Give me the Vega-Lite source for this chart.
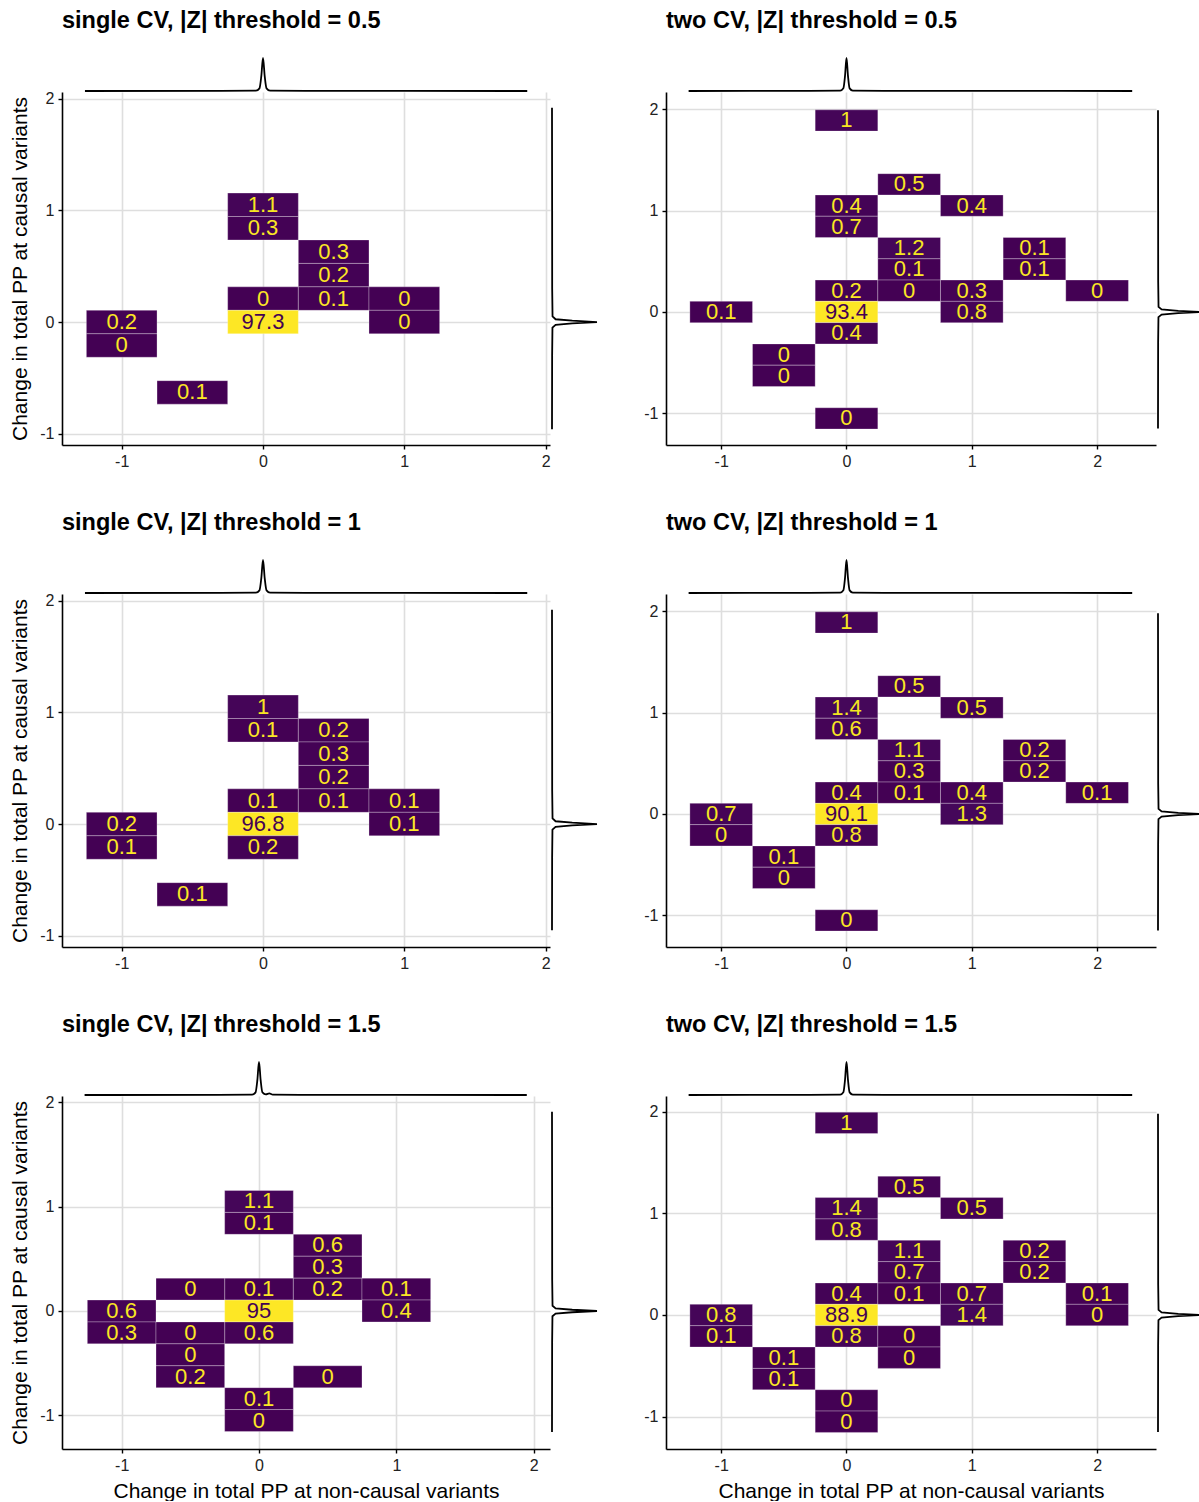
{
"$schema": "https://vega.github.io/schema/vega-lite/v6.json",
"padding": {"left": 9, "top": 8, "right": 0, "bottom": 0},
"datasets": {
"tiles": [
{"p":"A","x":0,"y":1.05,"xa":-0.25,"xb":0.25,"ya":0.945,"yb":1.155,"v":1.1},
{"p":"A","x":0,"y":0.84,"xa":-0.25,"xb":0.25,"ya":0.735,"yb":0.945,"v":0.3},
{"p":"A","x":0,"y":0.21,"xa":-0.25,"xb":0.25,"ya":0.105,"yb":0.315,"v":0},
{"p":"A","x":0,"y":0,"xa":-0.25,"xb":0.25,"ya":-0.105,"yb":0.105,"v":97.3},
{"p":"A","x":0.5,"y":0.63,"xa":0.25,"xb":0.75,"ya":0.525,"yb":0.735,"v":0.3},
{"p":"A","x":0.5,"y":0.42,"xa":0.25,"xb":0.75,"ya":0.315,"yb":0.525,"v":0.2},
{"p":"A","x":0.5,"y":0.21,"xa":0.25,"xb":0.75,"ya":0.105,"yb":0.315,"v":0.1},
{"p":"A","x":1,"y":0.21,"xa":0.75,"xb":1.25,"ya":0.105,"yb":0.315,"v":0},
{"p":"A","x":1,"y":0,"xa":0.75,"xb":1.25,"ya":-0.105,"yb":0.105,"v":0},
{"p":"A","x":-1,"y":0,"xa":-1.25,"xb":-0.75,"ya":-0.105,"yb":0.105,"v":0.2},
{"p":"A","x":-1,"y":-0.21,"xa":-1.25,"xb":-0.75,"ya":-0.315,"yb":-0.105,"v":0},
{"p":"A","x":-0.5,"y":-0.63,"xa":-0.75,"xb":-0.25,"ya":-0.735,"yb":-0.525,"v":0.1},

{"p":"B","x":0,"y":1.89,"xa":-0.25,"xb":0.25,"ya":1.785,"yb":1.995,"v":1},
{"p":"B","x":0,"y":1.05,"xa":-0.25,"xb":0.25,"ya":0.945,"yb":1.155,"v":0.4},
{"p":"B","x":0,"y":0.84,"xa":-0.25,"xb":0.25,"ya":0.735,"yb":0.945,"v":0.7},
{"p":"B","x":0,"y":0.21,"xa":-0.25,"xb":0.25,"ya":0.105,"yb":0.315,"v":0.2},
{"p":"B","x":0,"y":0,"xa":-0.25,"xb":0.25,"ya":-0.105,"yb":0.105,"v":93.4},
{"p":"B","x":0,"y":-0.21,"xa":-0.25,"xb":0.25,"ya":-0.315,"yb":-0.105,"v":0.4},
{"p":"B","x":0,"y":-1.05,"xa":-0.25,"xb":0.25,"ya":-1.155,"yb":-0.945,"v":0},
{"p":"B","x":0.5,"y":1.26,"xa":0.25,"xb":0.75,"ya":1.155,"yb":1.365,"v":0.5},
{"p":"B","x":0.5,"y":0.63,"xa":0.25,"xb":0.75,"ya":0.525,"yb":0.735,"v":1.2},
{"p":"B","x":0.5,"y":0.42,"xa":0.25,"xb":0.75,"ya":0.315,"yb":0.525,"v":0.1},
{"p":"B","x":0.5,"y":0.21,"xa":0.25,"xb":0.75,"ya":0.105,"yb":0.315,"v":0},
{"p":"B","x":1,"y":1.05,"xa":0.75,"xb":1.25,"ya":0.945,"yb":1.155,"v":0.4},
{"p":"B","x":1,"y":0.21,"xa":0.75,"xb":1.25,"ya":0.105,"yb":0.315,"v":0.3},
{"p":"B","x":1,"y":0,"xa":0.75,"xb":1.25,"ya":-0.105,"yb":0.105,"v":0.8},
{"p":"B","x":1.5,"y":0.63,"xa":1.25,"xb":1.75,"ya":0.525,"yb":0.735,"v":0.1},
{"p":"B","x":1.5,"y":0.42,"xa":1.25,"xb":1.75,"ya":0.315,"yb":0.525,"v":0.1},
{"p":"B","x":2,"y":0.21,"xa":1.75,"xb":2.25,"ya":0.105,"yb":0.315,"v":0},
{"p":"B","x":-1,"y":0,"xa":-1.25,"xb":-0.75,"ya":-0.105,"yb":0.105,"v":0.1},
{"p":"B","x":-0.5,"y":-0.42,"xa":-0.75,"xb":-0.25,"ya":-0.525,"yb":-0.315,"v":0},
{"p":"B","x":-0.5,"y":-0.63,"xa":-0.75,"xb":-0.25,"ya":-0.735,"yb":-0.525,"v":0},

{"p":"C","x":0,"y":1.05,"xa":-0.25,"xb":0.25,"ya":0.945,"yb":1.155,"v":1},
{"p":"C","x":0,"y":0.84,"xa":-0.25,"xb":0.25,"ya":0.735,"yb":0.945,"v":0.1},
{"p":"C","x":0,"y":0.21,"xa":-0.25,"xb":0.25,"ya":0.105,"yb":0.315,"v":0.1},
{"p":"C","x":0,"y":0,"xa":-0.25,"xb":0.25,"ya":-0.105,"yb":0.105,"v":96.8},
{"p":"C","x":0,"y":-0.21,"xa":-0.25,"xb":0.25,"ya":-0.315,"yb":-0.105,"v":0.2},
{"p":"C","x":0.5,"y":0.84,"xa":0.25,"xb":0.75,"ya":0.735,"yb":0.945,"v":0.2},
{"p":"C","x":0.5,"y":0.63,"xa":0.25,"xb":0.75,"ya":0.525,"yb":0.735,"v":0.3},
{"p":"C","x":0.5,"y":0.42,"xa":0.25,"xb":0.75,"ya":0.315,"yb":0.525,"v":0.2},
{"p":"C","x":0.5,"y":0.21,"xa":0.25,"xb":0.75,"ya":0.105,"yb":0.315,"v":0.1},
{"p":"C","x":1,"y":0.21,"xa":0.75,"xb":1.25,"ya":0.105,"yb":0.315,"v":0.1},
{"p":"C","x":1,"y":0,"xa":0.75,"xb":1.25,"ya":-0.105,"yb":0.105,"v":0.1},
{"p":"C","x":-1,"y":0,"xa":-1.25,"xb":-0.75,"ya":-0.105,"yb":0.105,"v":0.2},
{"p":"C","x":-1,"y":-0.21,"xa":-1.25,"xb":-0.75,"ya":-0.315,"yb":-0.105,"v":0.1},
{"p":"C","x":-0.5,"y":-0.63,"xa":-0.75,"xb":-0.25,"ya":-0.735,"yb":-0.525,"v":0.1},

{"p":"D","x":0,"y":1.89,"xa":-0.25,"xb":0.25,"ya":1.785,"yb":1.995,"v":1},
{"p":"D","x":0,"y":1.05,"xa":-0.25,"xb":0.25,"ya":0.945,"yb":1.155,"v":1.4},
{"p":"D","x":0,"y":0.84,"xa":-0.25,"xb":0.25,"ya":0.735,"yb":0.945,"v":0.6},
{"p":"D","x":0,"y":0.21,"xa":-0.25,"xb":0.25,"ya":0.105,"yb":0.315,"v":0.4},
{"p":"D","x":0,"y":0,"xa":-0.25,"xb":0.25,"ya":-0.105,"yb":0.105,"v":90.1},
{"p":"D","x":0,"y":-0.21,"xa":-0.25,"xb":0.25,"ya":-0.315,"yb":-0.105,"v":0.8},
{"p":"D","x":0,"y":-1.05,"xa":-0.25,"xb":0.25,"ya":-1.155,"yb":-0.945,"v":0},
{"p":"D","x":0.5,"y":1.26,"xa":0.25,"xb":0.75,"ya":1.155,"yb":1.365,"v":0.5},
{"p":"D","x":0.5,"y":0.63,"xa":0.25,"xb":0.75,"ya":0.525,"yb":0.735,"v":1.1},
{"p":"D","x":0.5,"y":0.42,"xa":0.25,"xb":0.75,"ya":0.315,"yb":0.525,"v":0.3},
{"p":"D","x":0.5,"y":0.21,"xa":0.25,"xb":0.75,"ya":0.105,"yb":0.315,"v":0.1},
{"p":"D","x":1,"y":1.05,"xa":0.75,"xb":1.25,"ya":0.945,"yb":1.155,"v":0.5},
{"p":"D","x":1,"y":0.21,"xa":0.75,"xb":1.25,"ya":0.105,"yb":0.315,"v":0.4},
{"p":"D","x":1,"y":0,"xa":0.75,"xb":1.25,"ya":-0.105,"yb":0.105,"v":1.3},
{"p":"D","x":1.5,"y":0.63,"xa":1.25,"xb":1.75,"ya":0.525,"yb":0.735,"v":0.2},
{"p":"D","x":1.5,"y":0.42,"xa":1.25,"xb":1.75,"ya":0.315,"yb":0.525,"v":0.2},
{"p":"D","x":2,"y":0.21,"xa":1.75,"xb":2.25,"ya":0.105,"yb":0.315,"v":0.1},
{"p":"D","x":-1,"y":0,"xa":-1.25,"xb":-0.75,"ya":-0.105,"yb":0.105,"v":0.7},
{"p":"D","x":-1,"y":-0.21,"xa":-1.25,"xb":-0.75,"ya":-0.315,"yb":-0.105,"v":0},
{"p":"D","x":-0.5,"y":-0.42,"xa":-0.75,"xb":-0.25,"ya":-0.525,"yb":-0.315,"v":0.1},
{"p":"D","x":-0.5,"y":-0.63,"xa":-0.75,"xb":-0.25,"ya":-0.735,"yb":-0.525,"v":0},

{"p":"E","x":0,"y":1.05,"xa":-0.25,"xb":0.25,"ya":0.945,"yb":1.155,"v":1.1},
{"p":"E","x":0,"y":0.84,"xa":-0.25,"xb":0.25,"ya":0.735,"yb":0.945,"v":0.1},
{"p":"E","x":0,"y":0.21,"xa":-0.25,"xb":0.25,"ya":0.105,"yb":0.315,"v":0.1},
{"p":"E","x":0,"y":0,"xa":-0.25,"xb":0.25,"ya":-0.105,"yb":0.105,"v":95},
{"p":"E","x":0,"y":-0.21,"xa":-0.25,"xb":0.25,"ya":-0.315,"yb":-0.105,"v":0.6},
{"p":"E","x":0,"y":-0.84,"xa":-0.25,"xb":0.25,"ya":-0.945,"yb":-0.735,"v":0.1},
{"p":"E","x":0,"y":-1.05,"xa":-0.25,"xb":0.25,"ya":-1.155,"yb":-0.945,"v":0},
{"p":"E","x":0.5,"y":0.63,"xa":0.25,"xb":0.75,"ya":0.525,"yb":0.735,"v":0.6},
{"p":"E","x":0.5,"y":0.42,"xa":0.25,"xb":0.75,"ya":0.315,"yb":0.525,"v":0.3},
{"p":"E","x":0.5,"y":0.21,"xa":0.25,"xb":0.75,"ya":0.105,"yb":0.315,"v":0.2},
{"p":"E","x":0.5,"y":-0.63,"xa":0.25,"xb":0.75,"ya":-0.735,"yb":-0.525,"v":0},
{"p":"E","x":1,"y":0.21,"xa":0.75,"xb":1.25,"ya":0.105,"yb":0.315,"v":0.1},
{"p":"E","x":1,"y":0,"xa":0.75,"xb":1.25,"ya":-0.105,"yb":0.105,"v":0.4},
{"p":"E","x":-1,"y":0,"xa":-1.25,"xb":-0.75,"ya":-0.105,"yb":0.105,"v":0.6},
{"p":"E","x":-1,"y":-0.21,"xa":-1.25,"xb":-0.75,"ya":-0.315,"yb":-0.105,"v":0.3},
{"p":"E","x":-0.5,"y":0.21,"xa":-0.75,"xb":-0.25,"ya":0.105,"yb":0.315,"v":0},
{"p":"E","x":-0.5,"y":-0.21,"xa":-0.75,"xb":-0.25,"ya":-0.315,"yb":-0.105,"v":0},
{"p":"E","x":-0.5,"y":-0.42,"xa":-0.75,"xb":-0.25,"ya":-0.525,"yb":-0.315,"v":0},
{"p":"E","x":-0.5,"y":-0.63,"xa":-0.75,"xb":-0.25,"ya":-0.735,"yb":-0.525,"v":0.2},

{"p":"F","x":0,"y":1.89,"xa":-0.25,"xb":0.25,"ya":1.785,"yb":1.995,"v":1},
{"p":"F","x":0,"y":1.05,"xa":-0.25,"xb":0.25,"ya":0.945,"yb":1.155,"v":1.4},
{"p":"F","x":0,"y":0.84,"xa":-0.25,"xb":0.25,"ya":0.735,"yb":0.945,"v":0.8},
{"p":"F","x":0,"y":0.21,"xa":-0.25,"xb":0.25,"ya":0.105,"yb":0.315,"v":0.4},
{"p":"F","x":0,"y":0,"xa":-0.25,"xb":0.25,"ya":-0.105,"yb":0.105,"v":88.9},
{"p":"F","x":0,"y":-0.21,"xa":-0.25,"xb":0.25,"ya":-0.315,"yb":-0.105,"v":0.8},
{"p":"F","x":0,"y":-0.84,"xa":-0.25,"xb":0.25,"ya":-0.945,"yb":-0.735,"v":0},
{"p":"F","x":0,"y":-1.05,"xa":-0.25,"xb":0.25,"ya":-1.155,"yb":-0.945,"v":0},
{"p":"F","x":0.5,"y":1.26,"xa":0.25,"xb":0.75,"ya":1.155,"yb":1.365,"v":0.5},
{"p":"F","x":0.5,"y":0.63,"xa":0.25,"xb":0.75,"ya":0.525,"yb":0.735,"v":1.1},
{"p":"F","x":0.5,"y":0.42,"xa":0.25,"xb":0.75,"ya":0.315,"yb":0.525,"v":0.7},
{"p":"F","x":0.5,"y":0.21,"xa":0.25,"xb":0.75,"ya":0.105,"yb":0.315,"v":0.1},
{"p":"F","x":0.5,"y":-0.21,"xa":0.25,"xb":0.75,"ya":-0.315,"yb":-0.105,"v":0},
{"p":"F","x":0.5,"y":-0.42,"xa":0.25,"xb":0.75,"ya":-0.525,"yb":-0.315,"v":0},
{"p":"F","x":1,"y":1.05,"xa":0.75,"xb":1.25,"ya":0.945,"yb":1.155,"v":0.5},
{"p":"F","x":1,"y":0.21,"xa":0.75,"xb":1.25,"ya":0.105,"yb":0.315,"v":0.7},
{"p":"F","x":1,"y":0,"xa":0.75,"xb":1.25,"ya":-0.105,"yb":0.105,"v":1.4},
{"p":"F","x":1.5,"y":0.63,"xa":1.25,"xb":1.75,"ya":0.525,"yb":0.735,"v":0.2},
{"p":"F","x":1.5,"y":0.42,"xa":1.25,"xb":1.75,"ya":0.315,"yb":0.525,"v":0.2},
{"p":"F","x":2,"y":0.21,"xa":1.75,"xb":2.25,"ya":0.105,"yb":0.315,"v":0.1},
{"p":"F","x":2,"y":0,"xa":1.75,"xb":2.25,"ya":-0.105,"yb":0.105,"v":0},
{"p":"F","x":-1,"y":0,"xa":-1.25,"xb":-0.75,"ya":-0.105,"yb":0.105,"v":0.8},
{"p":"F","x":-1,"y":-0.21,"xa":-1.25,"xb":-0.75,"ya":-0.315,"yb":-0.105,"v":0.1},
{"p":"F","x":-0.5,"y":-0.42,"xa":-0.75,"xb":-0.25,"ya":-0.525,"yb":-0.315,"v":0.1},
{"p":"F","x":-0.5,"y":-0.63,"xa":-0.75,"xb":-0.25,"ya":-0.735,"yb":-0.525,"v":0.1}
],
"topd": [
{"p":"A","x":-1.26,"d":0},{"p":"A","x":-0.3,"d":0.003},{"p":"A","x":-0.05,"d":0.01},{"p":"A","x":-0.025,"d":0.08},{"p":"A","x":-0.012,"d":0.45},{"p":"A","x":0,"d":1},{"p":"A","x":0.012,"d":0.45},{"p":"A","x":0.025,"d":0.08},{"p":"A","x":0.05,"d":0.012},{"p":"A","x":0.3,"d":0.004},{"p":"A","x":1.0,"d":0.003},{"p":"A","x":1.87,"d":0},
{"p":"B","x":-1.26,"d":0},{"p":"B","x":-0.3,"d":0.003},{"p":"B","x":-0.05,"d":0.01},{"p":"B","x":-0.025,"d":0.08},{"p":"B","x":-0.012,"d":0.45},{"p":"B","x":0,"d":1},{"p":"B","x":0.012,"d":0.45},{"p":"B","x":0.025,"d":0.08},{"p":"B","x":0.05,"d":0.014},{"p":"B","x":0.3,"d":0.005},{"p":"B","x":1.0,"d":0.003},{"p":"B","x":1.6,"d":0.002},{"p":"B","x":2.28,"d":0},
{"p":"C","x":-1.26,"d":0},{"p":"C","x":-0.3,"d":0.003},{"p":"C","x":-0.05,"d":0.01},{"p":"C","x":-0.025,"d":0.08},{"p":"C","x":-0.012,"d":0.45},{"p":"C","x":0,"d":1},{"p":"C","x":0.012,"d":0.45},{"p":"C","x":0.025,"d":0.08},{"p":"C","x":0.05,"d":0.012},{"p":"C","x":0.3,"d":0.004},{"p":"C","x":1.0,"d":0.003},{"p":"C","x":1.87,"d":0},
{"p":"D","x":-1.26,"d":0},{"p":"D","x":-0.3,"d":0.003},{"p":"D","x":-0.05,"d":0.01},{"p":"D","x":-0.025,"d":0.08},{"p":"D","x":-0.012,"d":0.45},{"p":"D","x":0,"d":1},{"p":"D","x":0.012,"d":0.45},{"p":"D","x":0.025,"d":0.08},{"p":"D","x":0.05,"d":0.014},{"p":"D","x":0.3,"d":0.005},{"p":"D","x":1.0,"d":0.003},{"p":"D","x":1.6,"d":0.002},{"p":"D","x":2.28,"d":0},
{"p":"E","x":-1.27,"d":0},{"p":"E","x":-0.3,"d":0.003},{"p":"E","x":-0.05,"d":0.01},{"p":"E","x":-0.025,"d":0.08},{"p":"E","x":-0.012,"d":0.45},{"p":"E","x":0,"d":1},{"p":"E","x":0.012,"d":0.45},{"p":"E","x":0.025,"d":0.08},{"p":"E","x":0.05,"d":0.02},{"p":"E","x":0.075,"d":0.05},{"p":"E","x":0.1,"d":0.01},{"p":"E","x":0.3,"d":0.004},{"p":"E","x":1.0,"d":0.003},{"p":"E","x":1.95,"d":0},
{"p":"F","x":-1.26,"d":0},{"p":"F","x":-0.3,"d":0.003},{"p":"F","x":-0.05,"d":0.01},{"p":"F","x":-0.025,"d":0.08},{"p":"F","x":-0.012,"d":0.45},{"p":"F","x":0,"d":1},{"p":"F","x":0.012,"d":0.45},{"p":"F","x":0.025,"d":0.08},{"p":"F","x":0.05,"d":0.014},{"p":"F","x":0.3,"d":0.005},{"p":"F","x":1.0,"d":0.003},{"p":"F","x":1.6,"d":0.002},{"p":"F","x":2.28,"d":0}
],
"rightd": [
{"p":"A","y":1.92,"d":0},{"p":"A","y":1.0,"d":0.003},{"p":"A","y":0.3,"d":0.004},{"p":"A","y":0.05,"d":0.012},{"p":"A","y":0.025,"d":0.08},{"p":"A","y":0.012,"d":0.45},{"p":"A","y":0,"d":1},{"p":"A","y":-0.012,"d":0.45},{"p":"A","y":-0.025,"d":0.08},{"p":"A","y":-0.05,"d":0.01},{"p":"A","y":-0.3,"d":0.003},{"p":"A","y":-0.96,"d":0},
{"p":"B","y":1.99,"d":0},{"p":"B","y":1.0,"d":0.003},{"p":"B","y":0.3,"d":0.004},{"p":"B","y":0.05,"d":0.012},{"p":"B","y":0.025,"d":0.08},{"p":"B","y":0.012,"d":0.45},{"p":"B","y":0,"d":1},{"p":"B","y":-0.012,"d":0.45},{"p":"B","y":-0.025,"d":0.08},{"p":"B","y":-0.05,"d":0.01},{"p":"B","y":-0.3,"d":0.003},{"p":"B","y":-1.15,"d":0},
{"p":"C","y":1.92,"d":0},{"p":"C","y":1.0,"d":0.003},{"p":"C","y":0.3,"d":0.004},{"p":"C","y":0.05,"d":0.012},{"p":"C","y":0.025,"d":0.08},{"p":"C","y":0.012,"d":0.45},{"p":"C","y":0,"d":1},{"p":"C","y":-0.012,"d":0.45},{"p":"C","y":-0.025,"d":0.08},{"p":"C","y":-0.05,"d":0.01},{"p":"C","y":-0.3,"d":0.003},{"p":"C","y":-0.95,"d":0},
{"p":"D","y":1.98,"d":0},{"p":"D","y":1.0,"d":0.003},{"p":"D","y":0.3,"d":0.004},{"p":"D","y":0.05,"d":0.012},{"p":"D","y":0.025,"d":0.08},{"p":"D","y":0.012,"d":0.45},{"p":"D","y":0,"d":1},{"p":"D","y":-0.012,"d":0.45},{"p":"D","y":-0.025,"d":0.08},{"p":"D","y":-0.05,"d":0.01},{"p":"D","y":-0.3,"d":0.003},{"p":"D","y":-1.15,"d":0},
{"p":"E","y":1.91,"d":0},{"p":"E","y":1.0,"d":0.003},{"p":"E","y":0.3,"d":0.004},{"p":"E","y":0.05,"d":0.012},{"p":"E","y":0.025,"d":0.08},{"p":"E","y":0.012,"d":0.45},{"p":"E","y":0,"d":1},{"p":"E","y":-0.012,"d":0.45},{"p":"E","y":-0.025,"d":0.08},{"p":"E","y":-0.05,"d":0.01},{"p":"E","y":-0.3,"d":0.003},{"p":"E","y":-1.16,"d":0},
{"p":"F","y":1.98,"d":0},{"p":"F","y":1.0,"d":0.003},{"p":"F","y":0.3,"d":0.004},{"p":"F","y":0.05,"d":0.012},{"p":"F","y":0.025,"d":0.08},{"p":"F","y":0.012,"d":0.45},{"p":"F","y":0,"d":1},{"p":"F","y":-0.012,"d":0.45},{"p":"F","y":-0.025,"d":0.08},{"p":"F","y":-0.05,"d":0.01},{"p":"F","y":-0.3,"d":0.003},{"p":"F","y":-1.15,"d":0}
]
},
"vconcat": [
{"hconcat": [
{"width": 488, "height": 353, "title": {"text": "single CV, |Z| threshold = 0.5"},
 "layer": [
  {"data": {"name": "tiles"}, "transform": [{"filter": {"field": "p", "equal": "A"}}],
   "mark": {"type": "rect", "stroke": "#ffffff", "strokeWidth": 0.7, "strokeOpacity": 0.4},
   "encoding": {
    "x": {"field": "xa", "type": "quantitative", "scale": {"domain": [-1.4225, 2.031], "nice": false, "zero": false}, "axis": {"values": [-1,0,1,2], "title": null, "labelExpr": "'' + datum.value", "labelFontSize": 16}},
    "x2": {"field": "xb"},
    "y": {"field": "ya", "type": "quantitative", "scale": {"domain": [-1.101, 2.06], "nice": false, "zero": false}, "axis": {"values": [-1,0,1,2], "title": "Change in total PP at causal variants", "labelExpr": "'' + datum.value", "labelFontSize": 16}},
    "y2": {"field": "yb"},
    "fill": {"field": "v", "type": "quantitative", "scale": {"scheme": "viridis", "domain": [0, 97.3]}, "legend": null}}},
  {"data": {"name": "tiles"}, "transform": [{"filter": {"field": "p", "equal": "A"}}],
   "mark": {"type": "text", "fontSize": 22, "baseline": "middle"},
   "encoding": {
    "x": {"field": "x", "type": "quantitative", "scale": {"domain": [-1.4225, 2.031], "nice": false, "zero": false}, "axis": null},
    "y": {"field": "y", "type": "quantitative", "scale": {"domain": [-1.101, 2.06], "nice": false, "zero": false}, "axis": null},
    "text": {"field": "v", "type": "nominal"},
    "color": {"field": "v", "type": "quantitative", "scale": {"scheme": "viridis", "reverse": true, "domain": [0, 97.3]}, "legend": null}}},
  {"data": {"name": "topd"}, "transform": [{"filter": {"field": "p", "equal": "A"}}],
   "mark": {"type": "line", "color": "#000", "strokeWidth": 1.8, "interpolate": "monotone"},
   "encoding": {
    "x": {"field": "x", "type": "quantitative", "scale": {"domain": [-1.4225, 2.031], "nice": false, "zero": false}, "axis": null},
    "y": {"field": "d", "type": "quantitative", "scale": {"domain": [-10.727, -0.0303], "nice": false, "zero": false}, "axis": null}}},
  {"data": {"name": "rightd"}, "transform": [{"filter": {"field": "p", "equal": "A"}}],
   "mark": {"type": "line", "color": "#000", "strokeWidth": 1.8},
   "encoding": {
    "x": {"field": "d", "type": "quantitative", "scale": {"domain": [-10.889, -0.0444], "nice": false, "zero": false}, "axis": null},
    "y": {"field": "y", "type": "quantitative", "scale": {"domain": [-1.101, 2.06], "nice": false, "zero": false}, "axis": null},
    "order": {"field": "y", "type": "quantitative"}}}
 ],
 "resolve": {"scale": {"x": "independent", "y": "independent", "fill": "independent", "color": "independent"}}},
{"width": 490, "height": 353, "title": {"text": "two CV, |Z| threshold = 0.5"},
 "layer": [
  {"data": {"name": "tiles"}, "transform": [{"filter": {"field": "p", "equal": "B"}}],
   "mark": {"type": "rect", "stroke": "#ffffff", "strokeWidth": 0.7, "strokeOpacity": 0.4},
   "encoding": {
    "x": {"field": "xa", "type": "quantitative", "scale": {"domain": [-1.4405, 2.47], "nice": false, "zero": false}, "axis": {"values": [-1,0,1,2], "title": null, "labelExpr": "'' + datum.value", "labelFontSize": 16}},
    "x2": {"field": "xb"},
    "y": {"field": "ya", "type": "quantitative", "scale": {"domain": [-1.3125, 2.171], "nice": false, "zero": false}, "axis": {"values": [-1,0,1,2], "title": null, "labelExpr": "'' + datum.value", "labelFontSize": 16}},
    "y2": {"field": "yb"},
    "fill": {"field": "v", "type": "quantitative", "scale": {"scheme": "viridis", "domain": [0, 93.4]}, "legend": null}}},
  {"data": {"name": "tiles"}, "transform": [{"filter": {"field": "p", "equal": "B"}}],
   "mark": {"type": "text", "fontSize": 22, "baseline": "middle"},
   "encoding": {
    "x": {"field": "x", "type": "quantitative", "scale": {"domain": [-1.4405, 2.47], "nice": false, "zero": false}, "axis": null},
    "y": {"field": "y", "type": "quantitative", "scale": {"domain": [-1.3125, 2.171], "nice": false, "zero": false}, "axis": null},
    "text": {"field": "v", "type": "nominal"},
    "color": {"field": "v", "type": "quantitative", "scale": {"scheme": "viridis", "reverse": true, "domain": [0, 93.4]}, "legend": null}}},
  {"data": {"name": "topd"}, "transform": [{"filter": {"field": "p", "equal": "B"}}],
   "mark": {"type": "line", "color": "#000", "strokeWidth": 1.8, "interpolate": "monotone"},
   "encoding": {
    "x": {"field": "x", "type": "quantitative", "scale": {"domain": [-1.4405, 2.47], "nice": false, "zero": false}, "axis": null},
    "y": {"field": "d", "type": "quantitative", "scale": {"domain": [-10.727, -0.0303], "nice": false, "zero": false}, "axis": null}}},
  {"data": {"name": "rightd"}, "transform": [{"filter": {"field": "p", "equal": "B"}}],
   "mark": {"type": "line", "color": "#000", "strokeWidth": 1.8},
   "encoding": {
    "x": {"field": "d", "type": "quantitative", "scale": {"domain": [-10.933, -0.0444], "nice": false, "zero": false}, "axis": null},
    "y": {"field": "y", "type": "quantitative", "scale": {"domain": [-1.3125, 2.171], "nice": false, "zero": false}, "axis": null},
    "order": {"field": "y", "type": "quantitative"}}}
 ],
 "resolve": {"scale": {"x": "independent", "y": "independent", "fill": "independent", "color": "independent"}}}
], "spacing": 42, "resolve": {"scale": {"fill": "independent", "color": "independent"}}},

{"hconcat": [
{"width": 488, "height": 353, "title": {"text": "single CV, |Z| threshold = 1"},
 "layer": [
  {"data": {"name": "tiles"}, "transform": [{"filter": {"field": "p", "equal": "C"}}],
   "mark": {"type": "rect", "stroke": "#ffffff", "strokeWidth": 0.7, "strokeOpacity": 0.4},
   "encoding": {
    "x": {"field": "xa", "type": "quantitative", "scale": {"domain": [-1.4225, 2.031], "nice": false, "zero": false}, "axis": {"values": [-1,0,1,2], "title": null, "labelExpr": "'' + datum.value", "labelFontSize": 16}},
    "x2": {"field": "xb"},
    "y": {"field": "ya", "type": "quantitative", "scale": {"domain": [-1.101, 2.06], "nice": false, "zero": false}, "axis": {"values": [-1,0,1,2], "title": "Change in total PP at causal variants", "labelExpr": "'' + datum.value", "labelFontSize": 16}},
    "y2": {"field": "yb"},
    "fill": {"field": "v", "type": "quantitative", "scale": {"scheme": "viridis", "domain": [0, 96.8]}, "legend": null}}},
  {"data": {"name": "tiles"}, "transform": [{"filter": {"field": "p", "equal": "C"}}],
   "mark": {"type": "text", "fontSize": 22, "baseline": "middle"},
   "encoding": {
    "x": {"field": "x", "type": "quantitative", "scale": {"domain": [-1.4225, 2.031], "nice": false, "zero": false}, "axis": null},
    "y": {"field": "y", "type": "quantitative", "scale": {"domain": [-1.101, 2.06], "nice": false, "zero": false}, "axis": null},
    "text": {"field": "v", "type": "nominal"},
    "color": {"field": "v", "type": "quantitative", "scale": {"scheme": "viridis", "reverse": true, "domain": [0, 96.8]}, "legend": null}}},
  {"data": {"name": "topd"}, "transform": [{"filter": {"field": "p", "equal": "C"}}],
   "mark": {"type": "line", "color": "#000", "strokeWidth": 1.8, "interpolate": "monotone"},
   "encoding": {
    "x": {"field": "x", "type": "quantitative", "scale": {"domain": [-1.4225, 2.031], "nice": false, "zero": false}, "axis": null},
    "y": {"field": "d", "type": "quantitative", "scale": {"domain": [-10.727, -0.0303], "nice": false, "zero": false}, "axis": null}}},
  {"data": {"name": "rightd"}, "transform": [{"filter": {"field": "p", "equal": "C"}}],
   "mark": {"type": "line", "color": "#000", "strokeWidth": 1.8},
   "encoding": {
    "x": {"field": "d", "type": "quantitative", "scale": {"domain": [-10.889, -0.0444], "nice": false, "zero": false}, "axis": null},
    "y": {"field": "y", "type": "quantitative", "scale": {"domain": [-1.101, 2.06], "nice": false, "zero": false}, "axis": null},
    "order": {"field": "y", "type": "quantitative"}}}
 ],
 "resolve": {"scale": {"x": "independent", "y": "independent", "fill": "independent", "color": "independent"}}},
{"width": 490, "height": 353, "title": {"text": "two CV, |Z| threshold = 1"},
 "layer": [
  {"data": {"name": "tiles"}, "transform": [{"filter": {"field": "p", "equal": "D"}}],
   "mark": {"type": "rect", "stroke": "#ffffff", "strokeWidth": 0.7, "strokeOpacity": 0.4},
   "encoding": {
    "x": {"field": "xa", "type": "quantitative", "scale": {"domain": [-1.4405, 2.47], "nice": false, "zero": false}, "axis": {"values": [-1,0,1,2], "title": null, "labelExpr": "'' + datum.value", "labelFontSize": 16}},
    "x2": {"field": "xb"},
    "y": {"field": "ya", "type": "quantitative", "scale": {"domain": [-1.3125, 2.171], "nice": false, "zero": false}, "axis": {"values": [-1,0,1,2], "title": null, "labelExpr": "'' + datum.value", "labelFontSize": 16}},
    "y2": {"field": "yb"},
    "fill": {"field": "v", "type": "quantitative", "scale": {"scheme": "viridis", "domain": [0, 90.1]}, "legend": null}}},
  {"data": {"name": "tiles"}, "transform": [{"filter": {"field": "p", "equal": "D"}}],
   "mark": {"type": "text", "fontSize": 22, "baseline": "middle"},
   "encoding": {
    "x": {"field": "x", "type": "quantitative", "scale": {"domain": [-1.4405, 2.47], "nice": false, "zero": false}, "axis": null},
    "y": {"field": "y", "type": "quantitative", "scale": {"domain": [-1.3125, 2.171], "nice": false, "zero": false}, "axis": null},
    "text": {"field": "v", "type": "nominal"},
    "color": {"field": "v", "type": "quantitative", "scale": {"scheme": "viridis", "reverse": true, "domain": [0, 90.1]}, "legend": null}}},
  {"data": {"name": "topd"}, "transform": [{"filter": {"field": "p", "equal": "D"}}],
   "mark": {"type": "line", "color": "#000", "strokeWidth": 1.8, "interpolate": "monotone"},
   "encoding": {
    "x": {"field": "x", "type": "quantitative", "scale": {"domain": [-1.4405, 2.47], "nice": false, "zero": false}, "axis": null},
    "y": {"field": "d", "type": "quantitative", "scale": {"domain": [-10.727, -0.0303], "nice": false, "zero": false}, "axis": null}}},
  {"data": {"name": "rightd"}, "transform": [{"filter": {"field": "p", "equal": "D"}}],
   "mark": {"type": "line", "color": "#000", "strokeWidth": 1.8},
   "encoding": {
    "x": {"field": "d", "type": "quantitative", "scale": {"domain": [-10.933, -0.0444], "nice": false, "zero": false}, "axis": null},
    "y": {"field": "y", "type": "quantitative", "scale": {"domain": [-1.3125, 2.171], "nice": false, "zero": false}, "axis": null},
    "order": {"field": "y", "type": "quantitative"}}}
 ],
 "resolve": {"scale": {"x": "independent", "y": "independent", "fill": "independent", "color": "independent"}}}
], "spacing": 42, "resolve": {"scale": {"fill": "independent", "color": "independent"}}},

{"hconcat": [
{"width": 488, "height": 353, "title": {"text": "single CV, |Z| threshold = 1.5"},
 "layer": [
  {"data": {"name": "tiles"}, "transform": [{"filter": {"field": "p", "equal": "E"}}],
   "mark": {"type": "rect", "stroke": "#ffffff", "strokeWidth": 0.7, "strokeOpacity": 0.4},
   "encoding": {
    "x": {"field": "xa", "type": "quantitative", "scale": {"domain": [-1.4345, 2.119], "nice": false, "zero": false}, "axis": {"values": [-1,0,1,2], "title": "Change in total PP at non-causal variants", "labelExpr": "'' + datum.value", "labelFontSize": 16}},
    "x2": {"field": "xb"},
    "y": {"field": "ya", "type": "quantitative", "scale": {"domain": [-1.323, 2.061], "nice": false, "zero": false}, "axis": {"values": [-1,0,1,2], "title": "Change in total PP at causal variants", "labelExpr": "'' + datum.value", "labelFontSize": 16}},
    "y2": {"field": "yb"},
    "fill": {"field": "v", "type": "quantitative", "scale": {"scheme": "viridis", "domain": [0, 95]}, "legend": null}}},
  {"data": {"name": "tiles"}, "transform": [{"filter": {"field": "p", "equal": "E"}}],
   "mark": {"type": "text", "fontSize": 22, "baseline": "middle"},
   "encoding": {
    "x": {"field": "x", "type": "quantitative", "scale": {"domain": [-1.4345, 2.119], "nice": false, "zero": false}, "axis": null},
    "y": {"field": "y", "type": "quantitative", "scale": {"domain": [-1.323, 2.061], "nice": false, "zero": false}, "axis": null},
    "text": {"field": "v", "type": "nominal"},
    "color": {"field": "v", "type": "quantitative", "scale": {"scheme": "viridis", "reverse": true, "domain": [0, 95]}, "legend": null}}},
  {"data": {"name": "topd"}, "transform": [{"filter": {"field": "p", "equal": "E"}}],
   "mark": {"type": "line", "color": "#000", "strokeWidth": 1.8, "interpolate": "monotone"},
   "encoding": {
    "x": {"field": "x", "type": "quantitative", "scale": {"domain": [-1.4345, 2.119], "nice": false, "zero": false}, "axis": null},
    "y": {"field": "d", "type": "quantitative", "scale": {"domain": [-10.727, -0.0303], "nice": false, "zero": false}, "axis": null}}},
  {"data": {"name": "rightd"}, "transform": [{"filter": {"field": "p", "equal": "E"}}],
   "mark": {"type": "line", "color": "#000", "strokeWidth": 1.8},
   "encoding": {
    "x": {"field": "d", "type": "quantitative", "scale": {"domain": [-10.889, -0.0444], "nice": false, "zero": false}, "axis": null},
    "y": {"field": "y", "type": "quantitative", "scale": {"domain": [-1.323, 2.061], "nice": false, "zero": false}, "axis": null},
    "order": {"field": "y", "type": "quantitative"}}}
 ],
 "resolve": {"scale": {"x": "independent", "y": "independent", "fill": "independent", "color": "independent"}}},
{"width": 490, "height": 353, "title": {"text": "two CV, |Z| threshold = 1.5"},
 "layer": [
  {"data": {"name": "tiles"}, "transform": [{"filter": {"field": "p", "equal": "F"}}],
   "mark": {"type": "rect", "stroke": "#ffffff", "strokeWidth": 0.7, "strokeOpacity": 0.4},
   "encoding": {
    "x": {"field": "xa", "type": "quantitative", "scale": {"domain": [-1.4405, 2.47], "nice": false, "zero": false}, "axis": {"values": [-1,0,1,2], "title": "Change in total PP at non-causal variants", "labelExpr": "'' + datum.value", "labelFontSize": 16}},
    "x2": {"field": "xb"},
    "y": {"field": "ya", "type": "quantitative", "scale": {"domain": [-1.318, 2.154], "nice": false, "zero": false}, "axis": {"values": [-1,0,1,2], "title": null, "labelExpr": "'' + datum.value", "labelFontSize": 16}},
    "y2": {"field": "yb"},
    "fill": {"field": "v", "type": "quantitative", "scale": {"scheme": "viridis", "domain": [0, 88.9]}, "legend": null}}},
  {"data": {"name": "tiles"}, "transform": [{"filter": {"field": "p", "equal": "F"}}],
   "mark": {"type": "text", "fontSize": 22, "baseline": "middle"},
   "encoding": {
    "x": {"field": "x", "type": "quantitative", "scale": {"domain": [-1.4405, 2.47], "nice": false, "zero": false}, "axis": null},
    "y": {"field": "y", "type": "quantitative", "scale": {"domain": [-1.318, 2.154], "nice": false, "zero": false}, "axis": null},
    "text": {"field": "v", "type": "nominal"},
    "color": {"field": "v", "type": "quantitative", "scale": {"scheme": "viridis", "reverse": true, "domain": [0, 88.9]}, "legend": null}}},
  {"data": {"name": "topd"}, "transform": [{"filter": {"field": "p", "equal": "F"}}],
   "mark": {"type": "line", "color": "#000", "strokeWidth": 1.8, "interpolate": "monotone"},
   "encoding": {
    "x": {"field": "x", "type": "quantitative", "scale": {"domain": [-1.4405, 2.47], "nice": false, "zero": false}, "axis": null},
    "y": {"field": "d", "type": "quantitative", "scale": {"domain": [-10.727, -0.0303], "nice": false, "zero": false}, "axis": null}}},
  {"data": {"name": "rightd"}, "transform": [{"filter": {"field": "p", "equal": "F"}}],
   "mark": {"type": "line", "color": "#000", "strokeWidth": 1.8},
   "encoding": {
    "x": {"field": "d", "type": "quantitative", "scale": {"domain": [-10.933, -0.0444], "nice": false, "zero": false}, "axis": null},
    "y": {"field": "y", "type": "quantitative", "scale": {"domain": [-1.318, 2.154], "nice": false, "zero": false}, "axis": null},
    "order": {"field": "y", "type": "quantitative"}}}
 ],
 "resolve": {"scale": {"x": "independent", "y": "independent", "fill": "independent", "color": "independent"}}}
], "spacing": 42, "resolve": {"scale": {"fill": "independent", "color": "independent"}}}
],
"spacing": 41,
"resolve": {"scale": {"fill": "independent", "color": "independent"}},
"config": {
 "font": "Liberation Sans",
 "view": {"stroke": null},
 "title": {"anchor": "start", "frame": "group", "fontSize": 23.5, "fontWeight": "bold", "color": "#000", "offset": 22},
 "axis": {"domainColor": "#000", "domainWidth": 1.6, "tickColor": "#000", "tickWidth": 1.4, "tickSize": 4, "labelFontSize": 16, "labelColor": "#222", "labelPadding": 4, "gridColor": "#dedede", "gridWidth": 1.6, "titleFontSize": 21, "titleFontWeight": "normal", "titleColor": "#000", "minExtent": 0, "grid": true},
 "axisX": {"titlePadding": 7, "labelFontSize": 16},
 "axisY": {"titlePadding": 9, "labelFontSize": 16}
}
}
